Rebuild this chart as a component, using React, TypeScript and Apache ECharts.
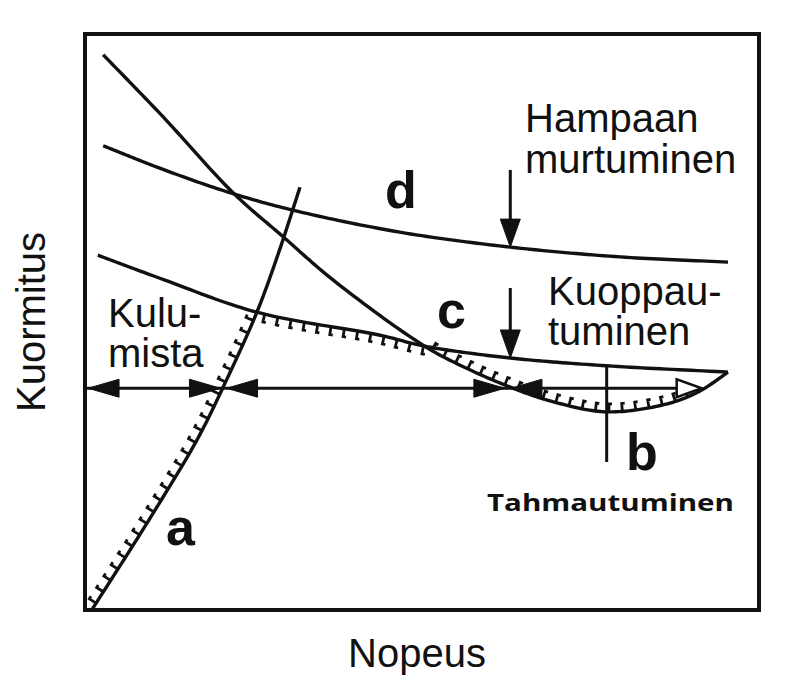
import { useEffect, useRef } from "react";
import * as echarts from "echarts";

// Axis ranges (relative speed / load, no units)
const xRange = [0, 100];
const yRange = [0, 100];

// a – wear limit (Kulumista)
const curveA = [[1.0, 0], [9.2, 15.1], [16.6, 29.5], [20.5, 38.7], [25.5, 51.7], [28.6, 61.6], [31.9, 73.4]];
// b – scuffing limit (Tahmautuminen)
const curveB = [[2.7, 96.4], [11.6, 85.6], [22.0, 72.4], [29.4, 64.8], [36.8, 57.3], [50.4, 45.8], [57.1, 41.7], [63.1, 38.7], [69.0, 36.3], [77.4, 34.4], [86.4, 35.8], [91.2, 38.0], [95.4, 41.3]];
// c – pitting limit (Kuoppautuminen)
const curveC = [[1.9, 61.6], [11.1, 57.6], [25.5, 51.7], [43.8, 47.7], [50.4, 45.8], [63.1, 43.75], [77.4, 42.4], [95.4, 41.3]];
// d – tooth breakage limit (Hampaan murtuminen)
const curveD = [[2.7, 80.6], [11.1, 76.7], [21.1, 72.6], [30.9, 69.4], [46.7, 65.6], [63.1, 63.0], [79.4, 61.3], [95.4, 60.4]];

// hatched parts: [curve index, from knot, to knot, side]
const hatchRanges = [[0, 0, 4, "left"], [2, 2, 4, "down"], [1, 5, 11, "up"]];

// horizontal load level with arrow heads
const levelY = 38.5;
const levelX = [0, 91.5];
const levelArrowTipsX = [0.45, 20.1, 21.0, 62.3, 63.2, 91.5];
const levelArrowDirs = [-1, 1, -1, 1, -1, 1];

// downward arrows: [x, yStart, yTip]
const downArrows = [[63.1, 76.4, 63.0], [63.1, 55.9, 43.75]];
// vertical marker at scuffing minimum: [x, yTop, yBottom]
const scuffMarker = [77.4, 42.4, 25.7];

const curves = [curveA, curveB, curveC, curveD];

function crPoint(p0: number[], p1: number[], p2: number[], p3: number[], t: number) {
  const d = (a: number[], b: number[]) => Math.max(Math.pow(Math.hypot(b[0] - a[0], b[1] - a[1]), 0.5), 1e-4);
  const t0 = 0, t1 = t0 + d(p0, p1), t2 = t1 + d(p1, p2), t3 = t2 + d(p2, p3);
  const tt = t1 + (t2 - t1) * t;
  const l = (a: number[], b: number[], ta: number, tb: number) => {
    const w = (tt - ta) / (tb - ta);
    return [a[0] + (b[0] - a[0]) * w, a[1] + (b[1] - a[1]) * w];
  };
  const A1 = l(p0, p1, t0, t1), A2 = l(p1, p2, t1, t2), A3 = l(p2, p3, t2, t3);
  const B1 = l(A1, A2, t0, t2), B2 = l(A2, A3, t1, t3);
  return l(B1, B2, t1, t2);
}

function sample(p: number[][], i0: number, i1: number, steps = 20) {
  const n = p.length;
  const get = (i: number) => {
    if (i < 0) return [2 * p[0][0] - p[1][0], 2 * p[0][1] - p[1][1]];
    if (i >= n) return [2 * p[n - 1][0] - p[n - 2][0], 2 * p[n - 1][1] - p[n - 2][1]];
    return p[i];
  };
  const out: number[][] = [];
  for (let s = i0; s < i1; s++) {
    for (let k = 0; k < steps; k++) {
      out.push(crPoint(get(s - 1), get(s), get(s + 1), get(s + 2), k / steps));
    }
  }
  out.push(p[i1]);
  return out;
}

function hatchTicks(pts: number[][], side: string, spacing = 13.5, len = 8) {
  const pref = side === "left" ? [-1, 0] : side === "down" ? [0, 1] : [0, -1];
  const ticks: any[] = [];
  let acc = spacing * 0.6;
  for (let i = 0; i < pts.length - 1; i++) {
    const a = pts[i], b = pts[i + 1];
    const segLen = Math.hypot(b[0] - a[0], b[1] - a[1]);
    if (segLen === 0) continue;
    const tx = (b[0] - a[0]) / segLen, ty = (b[1] - a[1]) / segLen;
    let nx = -ty, ny = tx;
    if (nx * pref[0] + ny * pref[1] < 0) { nx = -nx; ny = -ny; }
    let pos = acc;
    while (pos <= segLen) {
      const x = a[0] + tx * pos, y = a[1] + ty * pos;
      ticks.push({
        type: "polyline",
        shape: { points: [[x, y], [x + nx * len, y + ny * len], [x + nx * len + tx * 3, y + ny * len + ty * 3]] },
        style: { stroke: "#111", lineWidth: 2.8, fill: null },
      });
      pos += spacing;
    }
    acc = pos - segLen;
  }
  return ticks;
}

function arrowHead(tip: number[], dir: number[], len: number, half: number, hollow = false) {
  const bx = tip[0] - dir[0] * len, by = tip[1] - dir[1] * len;
  const nx = -dir[1], ny = dir[0];
  return {
    type: "polygon",
    shape: { points: [tip, [bx + nx * half, by + ny * half], [bx - nx * half, by - ny * half]] },
    style: hollow ? { fill: "#fff", stroke: "#111", lineWidth: 2.5 } : { fill: "#111", stroke: "#111", lineWidth: 1 },
  };
}

const font = "Liberation Sans, Arial, sans-serif";

export default function App() {
  const ref = useRef<HTMLDivElement>(null);
  useEffect(() => {
    if (!ref.current) return;
    const chart = echarts.init(ref.current, null, { renderer: "svg" });
    const toPx = (api: any, p: number[]) => api.coord(p);

    const curveSeries = {
      type: "custom",
      coordinateSystem: "cartesian2d",
      silent: true,
      data: curves.map((_, i) => [i, 0]),
      renderItem: (params: any, api: any) => {
        const c = curves[params.dataIndex];
        const px = c.map((p) => toPx(api, p));
        const pts = sample(px, 0, px.length - 1);
        return { type: "polyline", shape: { points: pts }, style: { stroke: "#111", lineWidth: 3.4, fill: null } };
      },
    };

    const hatchSeries = {
      type: "custom",
      coordinateSystem: "cartesian2d",
      silent: true,
      data: hatchRanges.map((_, i) => [i, 0]),
      renderItem: (params: any, api: any) => {
        const [ci, i0, i1, side] = hatchRanges[params.dataIndex] as any;
        const px = curves[ci].map((p) => toPx(api, p));
        const pts = sample(px, i0, i1);
        return { type: "group", children: hatchTicks(pts, side) };
      },
    };

    const annotSeries = {
      type: "custom",
      coordinateSystem: "cartesian2d",
      silent: true,
      data: [[0, 0]],
      renderItem: (_params: any, api: any) => {
        const children: any[] = [];
        const l0 = api.coord([levelX[0], levelY]);
        const l1 = api.coord([levelX[1], levelY]);
        children.push({ type: "line", shape: { x1: l0[0], y1: l0[1], x2: l1[0] - 20, y2: l1[1] }, style: { stroke: "#111", lineWidth: 3 } });
        levelArrowTipsX.forEach((x, i) => {
          const tip = api.coord([x, levelY]);
          children.push(arrowHead(tip, [levelArrowDirs[i], 0], i === levelArrowTipsX.length - 1 ? 25 : 31, 9, i === levelArrowTipsX.length - 1));
        });
        downArrows.forEach(([x, y0, y1]) => {
          const a = api.coord([x, y0]);
          const b = api.coord([x, y1]);
          children.push({ type: "line", shape: { x1: a[0], y1: a[1], x2: b[0], y2: b[1] - 10 }, style: { stroke: "#111", lineWidth: 3 } });
          children.push(arrowHead(b, [0, 1], 28, 10));
        });
        const m0 = api.coord([scuffMarker[0], scuffMarker[1]]);
        const m1 = api.coord([scuffMarker[0], scuffMarker[2]]);
        children.push({ type: "line", shape: { x1: m0[0], y1: m0[1], x2: m1[0], y2: m1[1] }, style: { stroke: "#111", lineWidth: 3 } });
        return { type: "group", children };
      },
    };

    const txt = (text: string, x: number, y: number, size: number, extra: any = {}) => ({
      type: "text",
      x,
      y,
      silent: true,
      ...extra,
      style: {
        text,
        fill: "#111",
        font: `${extra.weight || "normal"} ${size}px ${extra.family || font}`,
        textAlign: extra.align || "left",
        textVerticalAlign: "middle",
      },
    });

    chart.setOption({
      animation: false,
      backgroundColor: "#fff",
      grid: { left: 85, top: 34, right: 28, bottom: 67, show: true, borderColor: "#111", borderWidth: 4, backgroundColor: "transparent" },
      xAxis: { type: "value", min: xRange[0], max: xRange[1], show: false, splitLine: { show: false } },
      yAxis: { type: "value", min: yRange[0], max: yRange[1], show: false, splitLine: { show: false } },
      series: [curveSeries, hatchSeries, annotSeries],
      graphic: [
        txt("Hampaan", 525, 118, 40),
        txt("murtuminen", 525, 159, 40),
        txt("Kuoppau-", 548, 291, 40),
        txt("tuminen", 548, 331, 40),
        txt("Kulu-", 108, 313, 40),
        txt("mista", 108, 353, 40),
        txt("Nopeus", 417, 653, 40, { align: "center" }),
        txt("Kuormitus", 31, 322, 40, { align: "center", rotation: Math.PI / 2 }),
        txt("d", 385, 190, 52, { weight: "bold" }),
        txt("c", 437, 310, 52, { weight: "bold" }),
        txt("b", 626, 452, 52, { weight: "bold" }),
        txt("a", 166, 527, 52, { weight: "bold" }),
        txt("Tahmautuminen", 487, 502, 24, { weight: "bold", family: "Open Sans, sans-serif", scaleX: 1.23 }),
      ],
    });
    return () => chart.dispose();
  }, []);
  return <div ref={ref} style={{ position: "fixed", left: 0, top: 0, width: 787, height: 677 }} />;
}
